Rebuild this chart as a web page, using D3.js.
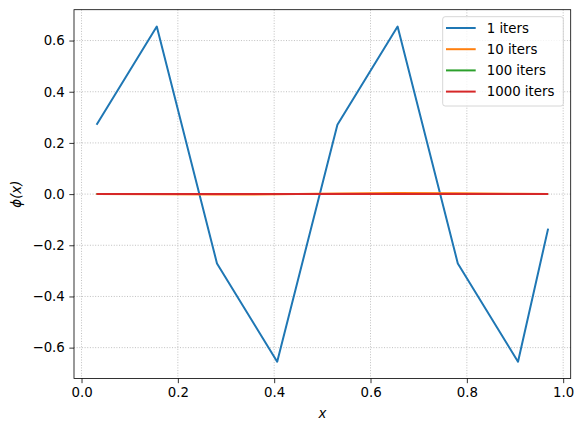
<!DOCTYPE html>
<html><head><meta charset="utf-8">
<script src="https://cdn.jsdelivr.net/npm/d3@7"></script>
<style>body{margin:0;background:#fff}svg{display:block}text{font-family:"DejaVu Sans",sans-serif}</style>
</head><body>
<script>
const xs = [0.03125, 0.15625, 0.28125, 0.40625, 0.53125, 0.65625, 0.78125, 0.90625, 0.96875];
const iters1 = [0.271, 0.655, -0.271, -0.655, 0.271, 0.655, -0.271, -0.655, -0.135];
const iters10 = [0.0005, -0.001, -0.002, -0.001, 0.002, 0.004, 0.003, 0.001, 0.0005];
const iters100 = [0.0, 0.0, 0.0, 0.0, 0.0, 0.0, 0.0, 0.0, 0.0];
const iters1000 = [0.0, 0.0, 0.0, 0.0, 0.0, 0.0, 0.0, 0.0, 0.0];
const seriesNames = ["1 iters", "10 iters", "100 iters", "1000 iters"];
const seriesColors = ["#1f77b4", "#ff7f0e", "#2ca02c", "#d62728"];
const xTicks = [0.0, 0.2, 0.4, 0.6, 0.8, 1.0];
const yTicks = [-0.6, -0.4, -0.2, 0.0, 0.2, 0.4, 0.6];

const W = 583, H = 432;
const L = 74, R = 570.7, T = 9.7, B = 378.5;
const svg = d3.select("body").append("svg").attr("width", W).attr("height", H);
const x = d3.scaleLinear().domain([-0.015625, 1.015625]).range([L, R]);
const y = d3.scaleLinear().domain([-0.7206, 0.7206]).range([B, T]);

// grid
const g = svg.append("g");
g.selectAll(".gx").data(xTicks).join("line")
  .attr("x1", d => x(d)).attr("x2", d => x(d)).attr("y1", T).attr("y2", B)
  .attr("stroke", "#b0b0b0").attr("stroke-width", 0.8).attr("stroke-dasharray", "1,1.65");
g.selectAll(".gy").data(yTicks).join("line")
  .attr("y1", d => y(d)).attr("y2", d => y(d)).attr("x1", L).attr("x2", R)
  .attr("stroke", "#b0b0b0").attr("stroke-width", 0.8).attr("stroke-dasharray", "1,1.65");

// lines
const all = [iters1, iters10, iters100, iters1000];
const line = d3.line().x((d, i) => x(xs[i])).y(d => y(d));
const clip = svg.append("clipPath").attr("id", "c").append("rect").attr("x", L).attr("y", T).attr("width", R - L).attr("height", B - T);
all.forEach((s, k) => {
  svg.append("path").datum(s).attr("d", line).attr("fill", "none")
    .attr("stroke", seriesColors[k]).attr("stroke-width", 2).attr("stroke-linejoin", "round").attr("stroke-linecap", "butt")
    .attr("clip-path", "url(#c)");
});

// axes
const fmt = d => d3.format(".1f")(d).replace("-", "\u2212");
const xa = svg.append("g").attr("transform", `translate(0,${B})`)
  .call(d3.axisBottom(x).tickValues(xTicks).tickFormat(fmt).tickSize(4.67).tickPadding(4.5));
const ya = svg.append("g").attr("transform", `translate(${L},0)`)
  .call(d3.axisLeft(y).tickValues(yTicks).tickFormat(fmt).tickSize(4.67).tickPadding(4.5));
[xa, ya].forEach(a => {
  a.select(".domain").remove();
  a.selectAll("line").attr("stroke", "#000").attr("stroke-width", 0.8);
  a.selectAll("text").attr("font-size", "13.33px").attr("fill", "#000").attr("font-family", "DejaVu Sans");
});
svg.append("rect").attr("x", L).attr("y", T).attr("width", R - L).attr("height", B - T)
  .attr("fill", "none").attr("stroke", "#000").attr("stroke-width", 0.8);

// labels
svg.append("text").attr("x", (L + R) / 2).attr("y", 418).attr("text-anchor", "middle")
  .attr("font-size", "13.33px").attr("font-style", "italic").text("x");
svg.append("text").attr("transform", `translate(21,${(T + B) / 2}) rotate(-90)`).attr("text-anchor", "middle")
  .attr("font-size", "13.33px").attr("font-style", "italic").text("ϕ(x)");

// legend
const lg = svg.append("g");
lg.append("rect").attr("x", 442.7).attr("y", 16.7).attr("width", 120.6).attr("height", 89.3).attr("rx", 2.5)
  .attr("fill", "#fff").attr("fill-opacity", 0.8).attr("stroke", "#cccccc").attr("stroke-width", 0.8);
seriesNames.forEach((n, i) => {
  const yy = 28 + i * 21.2;
  lg.append("line").attr("x1", 446).attr("x2", 475.7).attr("y1", yy).attr("y2", yy)
    .attr("stroke", seriesColors[i]).attr("stroke-width", 2);
  lg.append("text").attr("x", 486.7).attr("y", yy + 4.7).attr("font-size", "13.33px").text(n);
});
</script>
</body></html>
